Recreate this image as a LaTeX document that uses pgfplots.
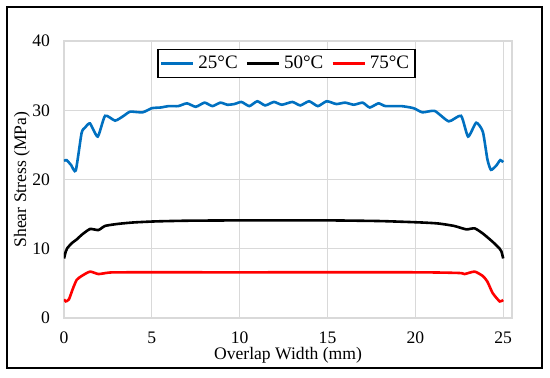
\documentclass[border=0pt]{standalone}
\usepackage{pgfplots}
\pgfplotsset{compat=1.18}
\usepackage{fontspec}
\setmainfont{Liberation Serif}
\definecolor{xlblue}{RGB}{0,112,192}
\definecolor{gridgray}{RGB}{217,217,217}
\begin{document}
\begin{tikzpicture}[x=1pt,y=1pt]
\useasboundingbox (0,0) rectangle (275,188.5);
\draw[line width=1pt] (3.5,4.5) rectangle (271,185);
\begin{axis}[
  at={(32pt,29.5pt)}, anchor=south west,
  scale only axis, width=224pt, height=138.5pt,
  xmin=0, xmax=25.5, ymin=0, ymax=40,
  xtick={0,5,10,15,20,25}, ytick={0,10,20,30,40},
  grid=major, major grid style={gridgray, line width=0.6pt},
  axis line style={gridgray, line width=0.6pt},
  tick style={draw=none},
  font=\fontsize{8.8}{10}\selectfont,
  /pgf/number format/assume math mode=true,
  yticklabel style={anchor=east, xshift=-3.5pt},
  xticklabel style={anchor=north, yshift=-3.5pt},
  xlabel={Overlap Width (mm)},
  ylabel={Shear Stress (MPa)},
  xlabel style={at={(axis description cs:0.5,-0.1336)}, anchor=center},
  ylabel style={at={(axis description cs:-0.094,0.5)}, anchor=center, rotate=0},
  legend style={at={(axis description cs:0.4967,0.9188)}, anchor=center,
    legend columns=3, draw=black, line width=0.8pt, fill=white,
    font=\fontsize{9.5}{10}\selectfont, inner sep=1pt,
    /tikz/every even column/.append style={column sep=2pt}},
  legend image code/.code={\draw[#1, line width=1.2pt] (0pt,0pt) -- (16pt,0pt);},
  every axis plot/.append style={line width=1.3pt, smooth, tension=0.35},
]
\addplot[xlblue] coordinates {
(0,22.7) (0.15,22.8) (0.4,22.1) (0.67,21.3) (1.0,26.7) (1.2,27.5) (1.48,28.1)
(1.92,26.2) (2.34,29.2) (2.91,28.5) (3.4,29.2) (3.77,29.8) (4.47,29.7) (5.0,30.3)
(5.5,30.4) (5.96,30.6) (6.5,30.6) (7.0,31.0) (7.5,30.5) (8.0,31.1) (8.45,30.6)
(8.9,31.1) (9.3,30.8) (9.7,30.9) (10.1,31.2) (10.55,30.6) (11.0,31.3) (11.45,30.7)
(11.95,31.2) (12.4,30.8) (13.0,31.2) (13.45,30.7) (13.95,31.3) (14.45,30.6)
(14.95,31.3) (15.5,30.9) (16.0,31.1) (16.5,30.8) (17.0,31.1) (17.4,30.4) (17.9,31.0)
(18.3,30.6) (19.2,30.6) (19.9,30.3) (20.4,29.7) (21.1,29.9) (21.9,28.4) (22.6,29.2)
(23.0,26.2) (23.46,28.2) (23.84,26.9) (24.1,22.9) (24.3,21.4) (24.6,22.0)
(24.83,22.8) (25.0,22.5)
};
\addlegendentry{25°C}
\addplot[black] coordinates {
(0,8.6) (0.1,9.6) (0.19,10.1) (0.44,10.8) (0.75,11.4) (1.0,12.0) (1.48,12.85)
(1.96,12.7) (2.34,13.3) (3.1,13.6) (3.96,13.8) (5.2,13.95) (7,14.05) (10,14.1)
(12.5,14.1) (15,14.1) (18,14.0) (20.3,13.8) (21.3,13.65) (22.2,13.3) (22.9,12.8)
(23.37,12.95) (23.84,12.2) (24.4,11.0) (24.8,10.0) (24.9,9.6) (25,8.6)
};
\addlegendentry{50°C}
\addplot[red] coordinates {
(0,2.7) (0.1,2.4) (0.28,2.7) (0.5,4.2) (0.72,5.5) (1.0,6.06) (1.48,6.7) (1.96,6.35)
(2.53,6.55) (3.3,6.6) (10,6.6) (20,6.6) (22.5,6.5) (22.8,6.35) (23.37,6.7)
(23.84,6.06) (24.1,5.25) (24.4,3.6) (24.8,2.4) (25,2.6)
};
\addlegendentry{75°C}
\end{axis}
\end{tikzpicture}
\end{document}
